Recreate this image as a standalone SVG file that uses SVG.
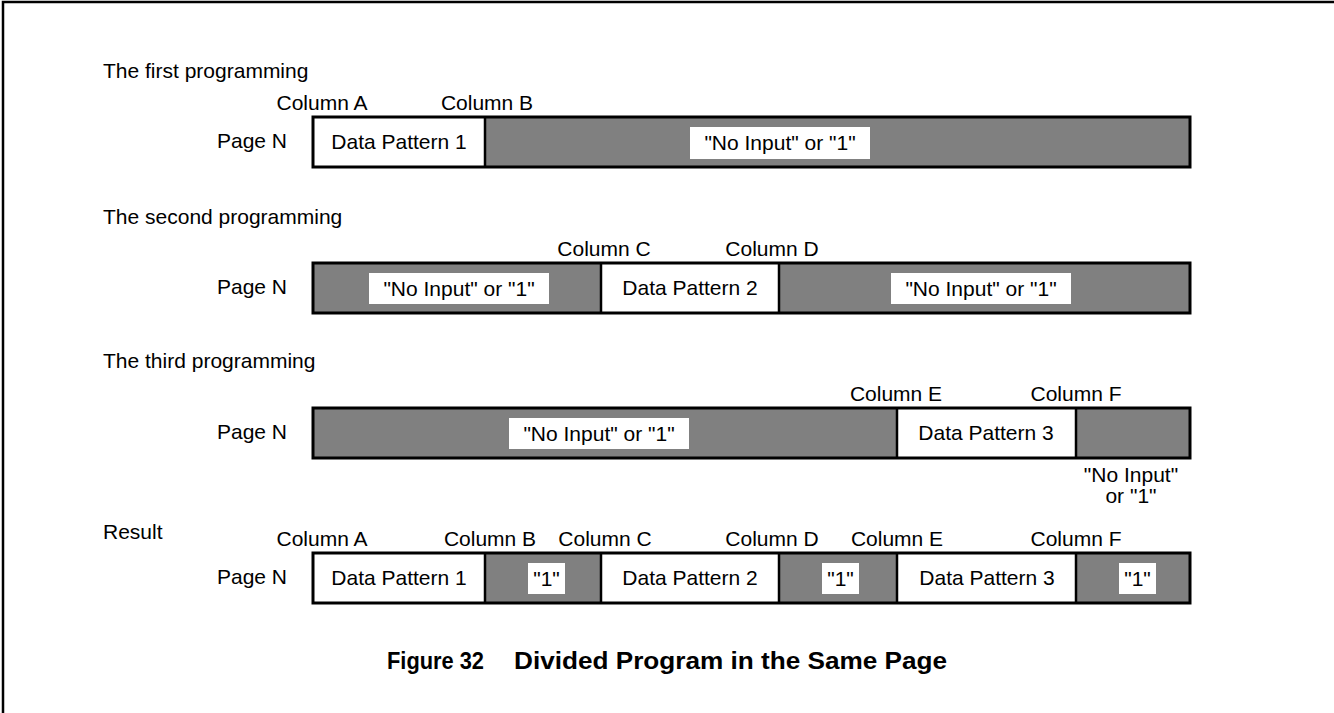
<svg xmlns="http://www.w3.org/2000/svg" width="1334" height="713" viewBox="0 0 1334 713">
<defs>
<style>
text{font-family:"Liberation Sans",Arial,sans-serif;font-size:21px;fill:#000}
.c{text-anchor:middle}
.e{text-anchor:end}
.cap{font-weight:bold;font-size:24px}
.g{fill:#808080;stroke:none}
.w{fill:#fff;stroke:none}
.div{stroke:#000;stroke-width:2.5;fill:none}
.frame{fill:none;stroke:#000;stroke-width:3}
.lbl{fill:#fff;stroke:none}
</style>
</defs>
<rect width="1334" height="713" fill="#fff"/>
<path d="M3,713 V2 H1334" fill="none" stroke="#000" stroke-width="2.5"/>

<g id="row1">
<text x="103" y="78">The first programming</text>
<text class="c" x="322" y="110">Column A</text>
<text class="c" x="487" y="110">Column B</text>
<text class="e" x="287" y="148">Page N</text>
<rect class="w" x="313" y="117" width="172" height="50"/>
<rect class="g" x="485" y="117" width="705" height="50"/>
<line class="div" x1="485" y1="117" x2="485" y2="167"/>
<rect class="frame" x="313" y="117" width="877" height="50"/>
<text class="c" x="399" y="149">Data Pattern 1</text>
<rect class="lbl" x="690" y="127" width="180" height="32"/>
<text class="c" x="780" y="150">"No Input" or "1"</text>
</g>

<g id="row2">
<text x="103" y="224">The second programming</text>
<text class="c" x="604" y="256">Column C</text>
<text class="c" x="772" y="256">Column D</text>
<text class="e" x="287" y="294">Page N</text>
<rect class="g" x="313" y="263" width="288" height="50"/>
<rect class="w" x="601" y="263" width="178" height="50"/>
<rect class="g" x="779" y="263" width="411" height="50"/>
<line class="div" x1="601" y1="263" x2="601" y2="313"/>
<line class="div" x1="779" y1="263" x2="779" y2="313"/>
<rect class="frame" x="313" y="263" width="877" height="50"/>
<rect class="lbl" x="369" y="273" width="180" height="31"/>
<text class="c" x="459" y="296">"No Input" or "1"</text>
<text class="c" x="690" y="295">Data Pattern 2</text>
<rect class="lbl" x="891" y="273" width="180" height="31"/>
<text class="c" x="981" y="296">"No Input" or "1"</text>
</g>

<g id="row3">
<text x="103" y="368">The third programming</text>
<text class="c" x="896" y="401">Column E</text>
<text class="c" x="1076" y="401">Column F</text>
<text class="e" x="287" y="439">Page N</text>
<rect class="g" x="313" y="408" width="584" height="50"/>
<rect class="w" x="897" y="408" width="179" height="50"/>
<rect class="g" x="1076" y="408" width="114" height="50"/>
<line class="div" x1="897" y1="408" x2="897" y2="458"/>
<line class="div" x1="1076" y1="408" x2="1076" y2="458"/>
<rect class="frame" x="313" y="408" width="877" height="50"/>
<rect class="lbl" x="509" y="418" width="180" height="31"/>
<text class="c" x="599" y="441">"No Input" or "1"</text>
<text class="c" x="986" y="440">Data Pattern 3</text>
<text class="c" x="1131" y="482">"No Input"</text>
<text class="c" x="1131" y="503">or "1"</text>
</g>

<g id="result">
<text x="103" y="539">Result</text>
<text class="c" x="322" y="546">Column A</text>
<text class="c" x="490" y="546">Column B</text>
<text class="c" x="605" y="546">Column C</text>
<text class="c" x="772" y="546">Column D</text>
<text class="c" x="897" y="546">Column E</text>
<text class="c" x="1076" y="546">Column F</text>
<text class="e" x="287" y="584">Page N</text>
<rect class="w" x="313" y="553" width="172" height="50"/>
<rect class="g" x="485" y="553" width="116" height="50"/>
<rect class="w" x="601" y="553" width="178" height="50"/>
<rect class="g" x="779" y="553" width="118" height="50"/>
<rect class="w" x="897" y="553" width="179" height="50"/>
<rect class="g" x="1076" y="553" width="114" height="50"/>
<line class="div" x1="485" y1="553" x2="485" y2="603"/>
<line class="div" x1="601" y1="553" x2="601" y2="603"/>
<line class="div" x1="779" y1="553" x2="779" y2="603"/>
<line class="div" x1="897" y1="553" x2="897" y2="603"/>
<line class="div" x1="1076" y1="553" x2="1076" y2="603"/>
<rect class="frame" x="313" y="553" width="877" height="50"/>
<text class="c" x="399" y="585">Data Pattern 1</text>
<text class="c" x="690" y="585">Data Pattern 2</text>
<text class="c" x="987" y="585">Data Pattern 3</text>
<rect class="lbl" x="528" y="563" width="37" height="31"/>
<text class="c" x="546.500" y="586">"1"</text>
<rect class="lbl" x="822" y="563" width="37" height="31"/>
<text class="c" x="840.500" y="586">"1"</text>
<rect class="lbl" x="1119" y="563" width="37" height="31"/>
<text class="c" x="1137.500" y="586">"1"</text>
</g>

<g id="caption">
<text class="cap" x="387" y="669" textLength="97" lengthAdjust="spacingAndGlyphs">Figure 32</text>
<text class="cap" x="514" y="669" textLength="433" lengthAdjust="spacingAndGlyphs">Divided Program in the Same Page</text>
</g>
</svg>
